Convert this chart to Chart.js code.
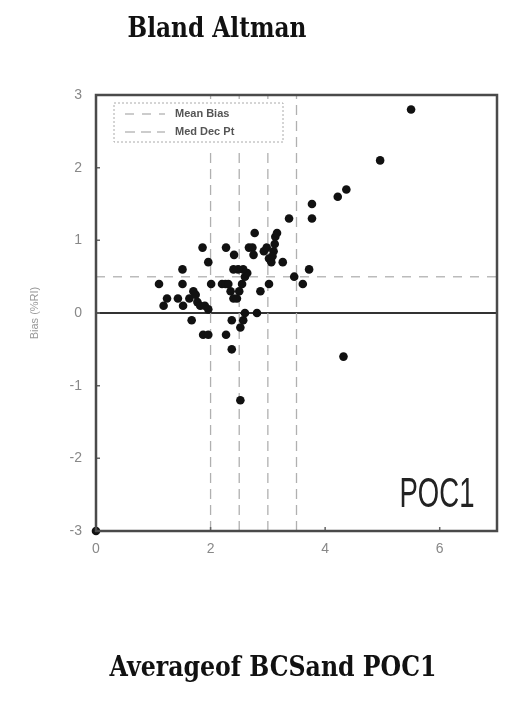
<!DOCTYPE html>
<html>
<head>
<meta charset="utf-8">
<script src="https://cdn.jsdelivr.net/npm/chart.js@4.4.1/dist/chart.umd.min.js"></script>
<style>
  html, body { margin: 0; padding: 0; background: #fff; }
  #wrap { position: relative; width: 520px; height: 705px; }
</style>
</head>
<body>
<div id="wrap">
  <canvas id="blandAltman" width="520" height="705"></canvas>
</div>
<script>
// Average of BCS and POC1 (x) against bias (y)
const avgValues = [
  1.10, 1.18, 1.24, 1.43, 1.52, 1.51, 1.51, 1.63, 1.70, 1.74,
  1.77, 1.82, 1.90, 1.96, 1.67, 1.86, 1.96, 2.01, 1.87, 1.96,
  2.27, 2.41, 2.27, 2.37, 2.37, 2.52, 2.57, 2.60, 2.81, 2.52,
  2.20, 2.26, 2.31, 2.35, 2.40, 2.46, 2.50, 2.55, 2.60, 2.64,
  2.57, 2.48, 2.40, 2.67, 2.73, 2.75, 2.77, 2.87, 3.02, 2.93,
  2.98, 3.02, 3.06, 3.13, 3.16, 3.12, 3.10, 3.08, 3.26, 3.37,
  3.46, 3.61, 3.72, 3.77, 3.77, 4.22, 4.37, 4.96, 5.50, 4.32,
  0.00
]
const biasValues = [
  0.4, 0.1, 0.2, 0.2, 0.1, 0.6, 0.4, 0.2, 0.3, 0.25,
  0.15, 0.1, 0.1, 0.05, -0.1, 0.9, 0.7, 0.4, -0.3, -0.3,
  0.9, 0.8, -0.3, -0.5, -0.1, -0.2, -0.1, 0.0, 0.0, -1.2,
  0.4, 0.4, 0.4, 0.3, 0.2, 0.2, 0.3, 0.4, 0.5, 0.55,
  0.6, 0.6, 0.6, 0.9, 0.9, 0.8, 1.1, 0.3, 0.4, 0.85,
  0.9, 0.75, 0.7, 1.05, 1.1, 0.95, 0.85, 0.78, 0.7, 1.3,
  0.5, 0.4, 0.6, 1.5, 1.3, 1.6, 1.7, 2.1, 2.8, -0.6,
  -3.0
]

const meanBias = 0.5
const medDecPoints = [2, 2.5, 3, 3.5]

const xTicks = [0, 2, 4, 6]
const yTicks = [-3, -2, -1, 0, 1, 2, 3]
const xRange = [0, 7]
const yRange = [-3, 3]

const scatterData = avgValues.map((x, i) => ({ x: x, y: biasValues[i] }))
const meanBiasData = [
  { x: xRange[0], y: meanBias },
  { x: xRange[1], y: meanBias }
]
// one dataset, the vertical lines split by null gaps
const medDecData = []
medDecPoints.forEach((x) => {
  medDecData.push({ x: x, y: yRange[0] }, { x: x, y: yRange[1] }, { x: x, y: null })
})

// draw text squeezed to a given width
function fittedText(ctx, text, cx, baseline, width, font, color) {
  ctx.save()
  ctx.font = font
  ctx.fillStyle = color
  ctx.textAlign = 'center'
  ctx.textBaseline = 'alphabetic'
  const w = ctx.measureText(text).width
  ctx.translate(cx, baseline)
  ctx.scale(width / w, 1)
  ctx.fillText(text, 0, 0)
  ctx.restore()
}

// frame, inward ticks, legend box and loose captions
const decorations = {
  id: 'decorations',
  afterDatasetsDraw(chart) {
    const { ctx, chartArea: a, scales } = chart
    ctx.save()

    // inward tick marks
    ctx.strokeStyle = '#666'
    ctx.lineWidth = 1.5
    ctx.beginPath()
    yTicks.forEach((v) => {
      const py = scales.y.getPixelForValue(v)
      ctx.moveTo(a.left, py)
      ctx.lineTo(a.left + 4, py)
    })
    xTicks.forEach((v) => {
      const px = scales.x.getPixelForValue(v)
      ctx.moveTo(px, a.bottom)
      ctx.lineTo(px, a.bottom - 4)
    })
    ctx.stroke()

    // plot frame
    ctx.strokeStyle = '#4a4a4a'
    ctx.lineWidth = 2.5
    ctx.strokeRect(a.left, a.top, a.right - a.left, a.bottom - a.top)

    // legend box, drawn over the dashed lines
    const lx = 114, ly = 103, lw = 169, lh = 39
    ctx.fillStyle = '#fff'
    ctx.fillRect(lx, ly - 2, lw, lh + 9)
    ctx.setLineDash([2, 2])
    ctx.strokeStyle = '#aaa'
    ctx.lineWidth = 1
    ctx.strokeRect(lx, ly, lw, lh)

    const legendDs = chart.data.datasets.slice(1)
    legendDs.forEach((ds, i) => {
      const yy = ly + 11 + i * 18
      ctx.setLineDash(ds.borderDash)
      ctx.strokeStyle = '#999'
      ctx.lineWidth = 1
      ctx.beginPath()
      ctx.moveTo(lx + 11, yy)
      ctx.lineTo(lx + 51, yy)
      ctx.stroke()
      ctx.setLineDash([])
      ctx.fillStyle = '#555'
      ctx.font = 'bold 11px "Liberation Sans", Arial, sans-serif'
      ctx.textBaseline = 'middle'
      ctx.textAlign = 'left'
      ctx.fillText(ds.label, lx + 61, yy)
    })
    ctx.restore()

    // captions
    fittedText(ctx, 'Bland Altman', 217, 37, 179, 'bold 28px "DejaVu Serif", serif', '#111')
    fittedText(ctx, 'Averageof BCSand POC1', 273, 676, 327, 'bold 28px "DejaVu Serif", serif', '#111')
    fittedText(ctx, 'POC1', 437, 507, 75, '42px "Liberation Sans", Arial, sans-serif', '#222')
  }
}

const ctx = document.getElementById('blandAltman').getContext('2d')

new Chart(ctx, {
  type: 'scatter',
  data: {
    datasets: [
      {
        label: 'Bias',
        data: scatterData,
        backgroundColor: '#111',
        borderColor: '#111',
        borderWidth: 0,
        pointRadius: 4.3,
        pointHoverRadius: 4.3,
        clip: 8
      },
      {
        label: 'Mean Bias',
        type: 'line',
        data: meanBiasData,
        borderColor: '#bbb',
        borderWidth: 1.5,
        borderDash: [9, 8],
        pointRadius: 0,
        fill: false
      },
      {
        label: 'Med Dec Pt',
        type: 'line',
        data: medDecData,
        borderColor: '#b0b0b0',
        borderWidth: 1.3,
        borderDash: [10, 6],
        pointRadius: 0,
        spanGaps: false,
        fill: false
      }
    ]
  },
  options: {
    responsive: false,
    animation: false,
    layout: {
      padding: { left: 0, top: 95, right: 23, bottom: 144 }
    },
    plugins: {
      legend: { display: false },
      tooltip: { enabled: false }
    },
    scales: {
      x: {
        type: 'linear',
        min: xRange[0],
        max: xRange[1],
        afterBuildTicks: (scale) => {
          scale.ticks = xTicks.map((v) => ({ value: v }))
        },
        afterFit: (scale) => {
          scale.height = 30
        },
        grid: { display: false, drawTicks: false },
        border: { display: false },
        ticks: {
          padding: 10,
          color: '#888',
          font: { family: '"Liberation Sans", Arial, sans-serif', size: 14 }
        }
      },
      y: {
        type: 'linear',
        min: yRange[0],
        max: yRange[1],
        afterBuildTicks: (scale) => {
          scale.ticks = yTicks.map((v) => ({ value: v }))
        },
        afterFit: (scale) => {
          scale.width = 96
        },
        grid: {
          drawTicks: false,
          lineWidth: 2,
          color: (c) => (c.tick && c.tick.value === 0 ? '#333' : 'rgba(0,0,0,0)')
        },
        border: { display: false },
        ticks: {
          padding: 14,
          color: '#888',
          font: { family: '"Liberation Sans", Arial, sans-serif', size: 14 }
        },
        title: {
          display: true,
          text: 'Bias (%RI)',
          color: '#999',
          font: { family: '"Liberation Sans", Arial, sans-serif', size: 11 },
          padding: { top: 28, bottom: 0 }
        }
      }
    }
  },
  plugins: [decorations]
})
</script>
</body>
</html>
